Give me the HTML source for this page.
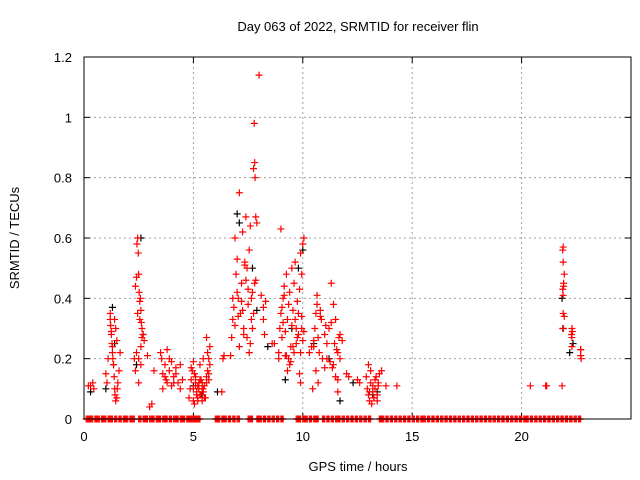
<!DOCTYPE html>
<html><head><meta charset="utf-8"><style>
body{margin:0;background:#fff}
svg{display:block;font-family:"Liberation Sans",sans-serif}
</style></head><body>
<svg id="chart" width="640" height="480" viewBox="0 0 640 480" xmlns="http://www.w3.org/2000/svg">
<rect width="640" height="480" fill="#fff"/>
<text x="358" y="31" font-size="13" text-anchor="middle">Day 063 of 2022, SRMTID for receiver flin</text>
<text x="358" y="471" font-size="13" text-anchor="middle">GPS time / hours</text>
<text transform="translate(19,238) rotate(-90)" font-size="13" text-anchor="middle">SRMTID / TECUs</text>
<g id="grid"></g>
<g id="ticks"></g>
<g id="black"></g>
<g id="red"></g>
<rect x="84" y="57" width="547" height="362" fill="none" stroke="#000" stroke-width="1"/>
</svg>
<script>
const xTicks=[0,5,10,15,20];
const yTicks=[0,0.2,0.4,0.6,0.8,1,1.2];
const yTickLabels=["0","0.2","0.4","0.6","0.8","1","1.2"];
const redHours=[0.2,0.3,0.4,0.45,1.0,1.05,1.1,1.2,1.22,1.25,1.28,1.3,1.32,1.35,1.38,1.4,1.42,1.45,1.5,1.52,1.55,1.6,1.65,1.2,1.3,1.4,1.5,1.25,1.35,1.45,
2.3,2.35,2.4,2.42,2.45,2.48,2.5,2.52,2.55,2.58,2.6,2.62,2.65,2.7,2.75,2.4,2.5,2.6,2.45,2.55,2.65,2.35,2.5,2.6,2.9,3.0,3.1,3.2,
3.5,3.55,3.6,3.7,3.75,3.8,3.9,4.0,4.1,4.2,4.3,4.4,4.5,3.6,3.8,4.0,4.2,4.4,3.7,3.9,4.1,
4.8,4.85,4.9,4.95,5.0,5.05,5.1,5.15,5.2,5.25,5.3,5.35,5.4,5.45,5.5,5.55,5.6,4.9,5.0,5.1,5.2,5.3,5.4,5.5,5.05,5.15,5.25,5.35,5.45,5.2,5.3,5.4,5.0,5.1,5.3,5.45,
5.6,5.65,5.7,5.75,5.6,5.7,5.65,5.75,5.7,6.3,6.35,6.4,
6.7,6.75,6.8,6.85,6.9,6.95,7.0,7.05,7.1,7.15,7.2,7.25,7.3,7.35,7.4,7.45,7.5,7.55,7.6,7.65,7.7,7.75,7.8,7.85,7.9,6.8,6.9,7.0,7.1,7.2,7.3,7.4,7.5,7.6,7.7,7.05,7.25,7.45,7.65,7.85,7.35,7.55,7.75,7.82,7.8,7.78,
8.0,8.1,8.2,8.3,8.2,8.25,8.6,8.7,
8.9,8.95,9.0,9.05,9.1,9.15,9.2,9.25,9.3,9.35,9.4,9.45,9.5,9.55,9.6,9.65,9.7,9.75,9.8,9.85,9.9,9.95,10.0,10.05,9.0,9.2,9.4,9.6,9.8,10.0,9.1,9.3,9.5,9.7,9.9,9.15,9.35,9.55,9.75,9.95,9.05,9.45,9.85,9.25,9.65,10.05,8.9,9.9,9.95,
10.3,10.4,10.5,10.55,10.6,10.65,10.7,10.75,10.8,10.9,11.0,11.1,11.2,11.3,11.4,11.5,11.6,11.7,11.8,10.5,10.6,10.7,10.8,11.0,11.1,11.3,11.4,11.5,11.6,11.7,10.45,10.65,10.85,11.05,11.25,11.45,11.65,11.55,11.35,11.6,
12.0,12.1,12.5,12.6,12.9,12.95,13.0,13.05,13.1,13.15,13.2,13.25,13.3,13.35,13.4,13.45,13.5,13.0,13.1,13.2,13.3,13.4,13.05,13.25,13.45,13.6,13.8,14.3,
20.4,21.1,21.15,21.85,21.88,21.9,21.9,21.92,21.95,21.9,21.88,21.9,21.92,21.88,21.95,22.3,22.32,22.3,22.28,22.3,22.7,22.7,22.7,22.72];
const redValues=[0.11,0.11,0.12,0.1,0.15,0.12,0.2,0.33,0.31,0.28,0.25,0.22,0.2,0.18,0.14,0.1,0.08,0.06,0.07,0.1,0.12,0.16,0.22,0.35,0.24,0.33,0.26,0.29,0.18,0.3,
0.2,0.44,0.47,0.58,0.6,0.55,0.48,0.42,0.39,0.4,0.36,0.32,0.3,0.28,0.26,0.22,0.2,0.18,0.35,0.33,0.27,0.16,0.12,0.24,0.21,0.04,0.05,0.16,
0.22,0.2,0.15,0.18,0.13,0.12,0.16,0.19,0.14,0.15,0.12,0.18,0.13,0.1,0.23,0.11,0.17,0.1,0.14,0.2,0.12,
0.07,0.1,0.13,0.16,0.19,0.15,0.12,0.08,0.06,0.1,0.13,0.08,0.06,0.09,0.11,0.07,0.12,0.17,0.1,0.14,0.11,0.08,0.12,0.07,0.05,0.09,0.12,0.13,0.1,0.07,0.08,0.1,0.06,0.11,0.18,0.2,0.14,
0.16,0.2,0.24,0.27,0.13,0.22,0.18,0.15,0.09,0.2,0.21,0.21,
0.27,0.33,0.37,0.6,0.48,0.53,0.4,0.75,0.35,0.45,0.62,0.3,0.52,0.67,0.5,0.43,0.56,0.64,0.4,0.3,0.35,0.45,0.67,0.65,0.4,0.31,0.42,0.24,0.39,0.28,0.46,0.38,0.25,0.42,0.34,0.36,0.27,0.33,0.46,0.51,0.22,0.83,0.8,0.85,0.98,1.14,
0.41,0.37,0.39,0.33,0.28,0.25,0.25,0.22,
0.3,0.35,0.27,0.4,0.44,0.29,0.48,0.33,0.38,0.42,0.24,0.5,0.36,0.45,0.52,0.3,0.39,0.28,0.43,0.55,0.48,0.58,0.6,0.63,0.21,0.18,0.22,0.35,0.26,0.32,0.16,0.31,0.25,0.22,0.41,0.2,0.24,0.27,0.3,0.37,0.19,0.15,0.21,0.33,0.29,0.2,0.12,0.34,0.22,
0.24,0.26,0.3,0.35,0.38,0.27,0.22,0.34,0.2,0.17,0.25,0.3,0.45,0.38,0.33,0.22,0.28,0.26,0.24,0.16,0.12,0.36,0.28,0.2,0.32,0.18,0.14,0.09,0.2,0.1,0.41,0.33,0.31,0.19,0.25,0.27,0.23,0.17,0.13,0.15,
0.14,0.13,0.12,0.14,0.1,0.08,0.06,0.12,0.05,0.09,0.07,0.1,0.14,0.08,0.12,0.15,0.18,0.16,0.11,0.13,0.06,0.09,0.07,0.11,0.16,0.11,0.11,0.11,
0.11,0.11,0.11,0.3,0.35,0.41,0.44,0.48,0.52,0.56,0.57,0.45,0.43,0.34,0.27,0.29,0.3,0.28,0.24,0.23,0.23,0.21,0.2,0.14];
const blackHours=[0.3,1.0,1.3,1.4,2.4,2.6,2.7,5.0,5.4,6.1,7.0,7.1,7.7,7.9,8.4,9.2,9.5,9.8,10.0,10.5,11.2,11.7,12.3,13.2,13.4,21.85,21.9,22.2,22.35];
const blackValues=[0.09,0.1,0.37,0.25,0.18,0.6,0.28,0.11,0.08,0.09,0.68,0.65,0.5,0.36,0.24,0.13,0.3,0.5,0.56,0.25,0.2,0.06,0.12,0.08,0.09,0.4,0.3,0.22,0.25];
const zeroHours=[0.1,0.2,0.3,0.5,0.6,0.8,0.9,1.1,1.2,1.4,1.6,1.8,1.9,2.1,2.2,2.5,2.7,2.8,3.0,3.1,3.3,3.4,3.6,3.7,3.9,4.1,4.2,4.4,4.5,4.7,4.8,4.9,5.05,5.15,5.2,6.0,6.1,6.3,6.4,6.6,6.8,7.0,7.5,7.6,7.9,8.0,8.2,8.4,8.6,8.8,9.0,9.7,9.8,10.0,10.1,10.3,10.5,10.6,10.9,11.1,11.3,11.5,11.6,11.8,12.0,12.2,12.4,12.6,12.8,13.0,13.5,13.6,13.8,14.0,14.2,14.4,14.6,14.8,15.0,15.2,15.4,15.5,15.7,15.9,16.1,16.3,16.5,16.7,16.9,17.1,17.3,17.5,17.7,17.9,18.1,18.3,18.5,18.7,18.9,19.1,19.3,19.5,19.7,19.9,20.1,20.2,20.4,20.6,20.8,21.0,21.2,21.4,21.6,21.8,22.0,22.2,22.4,22.6];
const NS="http://www.w3.org/2000/svg";
const X0=84,X1=631,Y0=419,Y1=57,XMAX=25,YMAX=1.2;
function xs(h){return X0+(X1-X0)*h/XMAX;}
function ys(v){return Y0-(Y0-Y1)*v/YMAX;}
const grid=document.getElementById('grid'),ticks=document.getElementById('ticks');
function mk(tag,attrs,parent){const e=document.createElementNS(NS,tag);for(const k in attrs)e.setAttribute(k,attrs[k]);parent.appendChild(e);return e;}
xTicks.forEach(t=>{const x=xs(t);
 if(t>0){const g=mk('line',{x1:x,x2:x,y1:Y1,y2:Y0,stroke:'#a0a0a0','stroke-dasharray':'2,3'},grid);
 
 }
 const l=mk('text',{x:x,y:441,'font-size':13,'text-anchor':'middle'},ticks);l.textContent=t;
 
 
 mk('line',{x1:x,x2:x,y1:Y0,y2:Y0-6,stroke:'#000'},ticks);mk('line',{x1:x,x2:x,y1:Y1,y2:Y1+6,stroke:'#000'},ticks);});
yTicks.forEach((t,i)=>{const y=ys(t);
 if(t>0&&t<1.2){const g=mk('line',{x1:X0,x2:X1,y1:y,y2:y,stroke:'#a0a0a0','stroke-dasharray':'2,3'},grid);
 
 }
 const l=mk('text',{x:72,y:y+5,'font-size':13,'text-anchor':'end'},ticks);l.textContent=yTickLabels[i];
 
 
 mk('line',{x1:X0,x2:X0+6,y1:y,y2:y,stroke:'#000'},ticks);mk('line',{x1:X1,x2:X1-6,y1:y,y2:y,stroke:'#000'},ticks);});
function plus(g,h,v,col,name){const x=xs(h),y=ys(v);
 const p=mk('path',{d:`M${x-3.5} ${y}h7M${x} ${y-3.5}v7`,stroke:col,'stroke-width':1.2,fill:'none'},g);
 
 }
const bg=document.getElementById('black'),rg=document.getElementById('red');
blackHours.forEach((h,i)=>plus(bg,h,blackValues[i],'#000','black-point'));
redHours.forEach((h,i)=>plus(rg,h,redValues[i],'#f00','red-point'));
zeroHours.forEach(h=>plus(rg,h,0,'#f00','zero-point'));
zeroHours.forEach(h=>plus(rg,h+0.05,0,'#f00','zero-point'));
zeroHours.forEach(h=>plus(rg,h+0.1,0,'#f00','zero-point'));
</script>
</body></html>
